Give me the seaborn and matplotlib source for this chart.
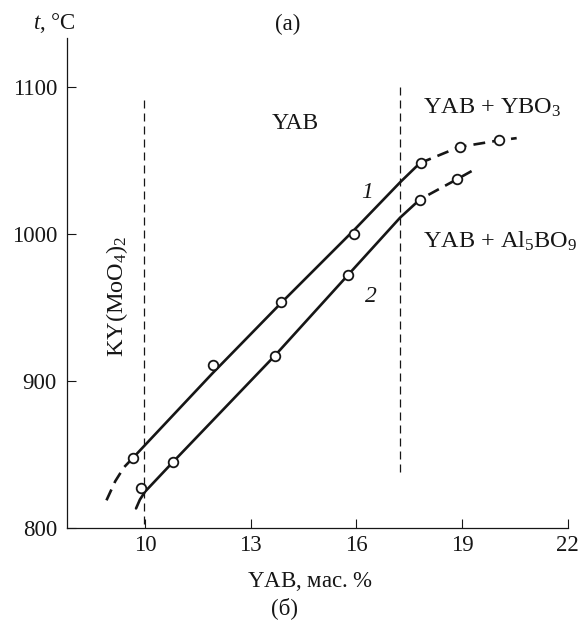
import matplotlib
matplotlib.use("Agg")
import matplotlib.pyplot as plt
import seaborn as sns
import pandas as pd

# ---- data ----
# curve 1 (solid part and dashed extensions)
c1_solid_x = [9.66, 11.9, 13.9, 15.95, 17.24, 17.8]
c1_solid_y = [848, 905, 954, 1003, 1035, 1048]
c1_low_x = [8.9, 9.15, 9.4, 9.66]
c1_low_y = [819, 832, 841.5, 848]
c1_high_x = [17.8, 18.92, 20.06, 20.55]
c1_high_y = [1048, 1059, 1063.5, 1065]
# curve 2
c2_solid_x = [9.74, 9.85, 10.0, 10.8, 13.68, 15.77, 17.24, 17.8]
c2_solid_y = [813.5, 819.5, 825, 845.3, 917.2, 972.3, 1011, 1023.3]
c2_high_x = [17.8, 18.85, 19.27]
c2_high_y = [1023.3, 1037, 1042.6]
# measured points (open circles)
pts1_x = [9.66, 11.93, 13.87, 15.94, 17.82, 18.93, 20.06]
pts1_y = [848, 911, 954, 1000, 1048, 1059, 1063.5]
pts2_x = [9.87, 10.8, 13.68, 15.77, 17.8, 18.85]
pts2_y = [827.6, 845.3, 917.2, 972, 1023.3, 1037.2]
# phase boundaries
boundary_x = [9.96, 17.23]
boundary_ymin = [803, 838]
boundary_ymax = [1092, 1101]

x_ticks = [10, 13, 16, 19, 22]
y_ticks = [800, 900, 1000, 1100]

sns.set_theme(style="white")
plt.rcParams["font.family"] = ["Liberation Serif", "DejaVu Serif"]
plt.rcParams["mathtext.fontset"] = "custom"
plt.rcParams["mathtext.rm"] = "Liberation Serif"
plt.rcParams["mathtext.it"] = "Liberation Serif:italic"
plt.rcParams["mathtext.bf"] = "Liberation Serif:bold"

INK = "#161616"
fig = plt.figure(figsize=(5.86, 6.43), dpi=100)
ax = fig.add_axes([0.1138, 0.1784, 0.855, 0.7625])

LW = 1.9
solid_kw = dict(color=INK, linewidth=LW, sort=False, estimator=None, legend=False, ax=ax)
dash_style = (0, (4.5, 2.7))
dash_style_c2 = (3.5, (4.5, 2.7))

for xs, ys, ls in [(c1_solid_x, c1_solid_y, "-"), (c1_low_x, c1_low_y, dash_style),
                   (c1_high_x, c1_high_y, dash_style), (c2_solid_x, c2_solid_y, "-"),
                   (c2_high_x, c2_high_y, dash_style_c2)]:
    df = pd.DataFrame({"x": xs, "y": ys})
    sns.lineplot(data=df, x="x", y="y", linestyle=ls, **solid_kw)

for xs, ys in [(pts1_x, pts1_y), (pts2_x, pts2_y)]:
    sns.scatterplot(x=xs, y=ys, s=48, marker="o", facecolor="white",
                    edgecolor=INK, linewidth=1.3, zorder=5, ax=ax, legend=False)

for bx, y0, y1 in zip(boundary_x, boundary_ymin, boundary_ymax):
    ax.plot([bx, bx], [y0, y1], color=INK, linewidth=0.9,
            linestyle=(0, (6.4, 4.0)))

ax.set_xlim(7.77, 22)
ax.set_ylim(800, 1133)
ax.set_xticks(x_ticks)
ax.set_yticks(y_ticks)
ax.set_xlabel("")
ax.set_ylabel("")
for s in ["top", "right"]:
    ax.spines[s].set_visible(False)
for s in ["left", "bottom"]:
    ax.spines[s].set_color(INK)
    ax.spines[s].set_linewidth(0.9)
ax.tick_params(axis="both", direction="in", length=6.5, width=0.8, colors=INK,
               labelsize=16.5, left=True, bottom=True)
ax.tick_params(axis="y", pad=7)
ax.tick_params(axis="x", pad=4.5)

fs = 17
fs_sub = 17.5
ax.text(14.25, 1075, "YAB", ha="center", va="center", fontsize=fs, color=INK)
ax.text(17.88, 1081.3, "YAB + YBO$_3$", ha="left", va="baseline", fontsize=fs_sub, color=INK)
ax.text(17.88, 990.9, "YAB + Al$_5$BO$_9$", ha="left", va="baseline", fontsize=fs_sub, color=INK)
ax.text(16.3, 1024.4, "1", ha="center", va="baseline", fontsize=fs, color=INK, fontstyle="italic")
ax.text(16.41, 954, "2", ha="center", va="baseline", fontsize=fs, color=INK, fontstyle="italic")
ax.text(9.36, 916.6, "KY(MoO$_4$)$_2$", ha="left", va="baseline", rotation=90,
        rotation_mode="anchor", fontsize=fs_sub, color=INK)

fig.text(76 / 586, 0.9544, "$\\mathit{t}$, °C", ha="right", va="baseline", fontsize=16.5, color=INK)
fig.text(288 / 586, 0.962, "(a)", ha="center", va="center", fontsize=16.5, color=INK)
fig.text(310 / 586, 0.0871, "YAB, мас. $\\mathit{\\%}$", ha="center", va="baseline", fontsize=16.5, color=INK)
fig.text(285 / 586, 0.0537, "(б)", ha="center", va="center", fontsize=16.5, color=INK)

fig.savefig("out.png", dpi=100, facecolor="white")
